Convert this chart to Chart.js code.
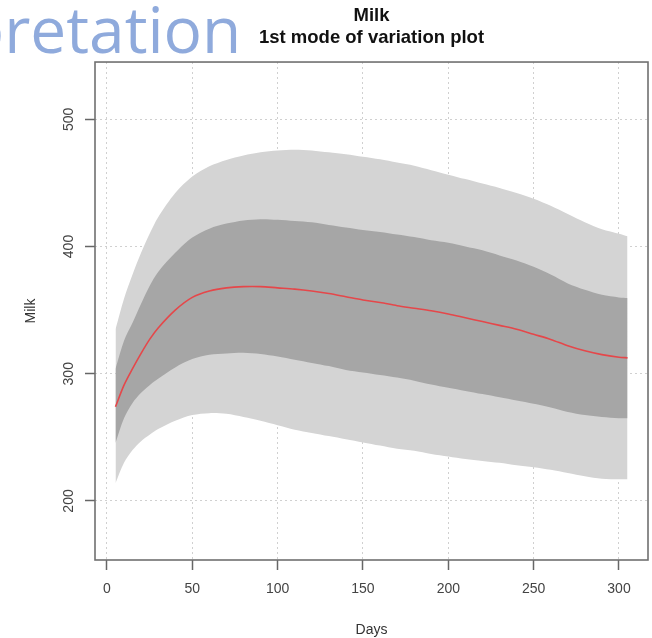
<!DOCTYPE html>
<html>
<head>
<meta charset="utf-8">
<script src="https://cdn.jsdelivr.net/npm/chart.js@4/dist/chart.umd.min.js"></script>
<style>
  body { margin: 0; background: #fff; }
  #wrap { position: relative; width: 652px; height: 638px; overflow: hidden; }
  #slideText {
    position: absolute; left: -35px; top: -3px;
    font-family: "Open Sans", sans-serif; font-size: 64px; line-height: 64px;
    color: #8faadc; white-space: nowrap;
  }
</style>
</head>
<body>
<div id="wrap">
  <canvas id="milkChart" width="652" height="638"></canvas>
  <div id="slideText">pretation</div>
</div>
<script>
// Days of lactation and milk yield curves
const days = [5, 10, 15, 20, 25, 30, 40, 50, 60, 70, 80, 90, 100, 110, 120, 130, 140, 150,
  160, 170, 180, 190, 200, 210, 220, 230, 240, 250, 260, 270, 280, 290, 300, 305];

const meanCurve = [274, 291, 304, 316, 327, 336, 350, 360, 365, 367.5, 368.5, 368.5, 367.5, 366.5, 365, 363, 360.5, 358,
  356, 353.5, 351.5, 349.5, 347, 344, 341, 338, 335, 331, 327, 322, 318, 315, 313, 312.5];

const innerUpper = [304, 326, 340, 355, 369, 380, 395, 407, 414, 418, 420.5, 421.5, 421, 420, 419, 417, 415, 413,
  411.5, 409.5, 407.5, 405, 403, 400, 397, 393, 389, 384, 378, 371, 366, 362, 360, 359.5];
const innerLower = [245.5, 265, 277, 285, 291, 296, 305, 311.5, 315, 316, 316.5, 315.5, 313.5, 311, 308.5, 306, 303, 301,
  299, 297, 294.5, 291.5, 289, 286.5, 284, 281.5, 279, 276.5, 273.5, 270, 267.5, 266, 265, 265];

const outerUpper = [335, 359, 378, 395, 410, 423, 442, 455, 463, 468, 471.5, 474, 475.5, 476, 475.5, 474, 472.5, 470.5,
  468.5, 466, 463.5, 460, 456.5, 453, 449.5, 446, 442, 437.5, 432, 425.5, 419, 413.5, 410, 408];
const outerLower = [214, 230, 240, 247, 252, 256.5, 263, 267.5, 269, 268.5, 266, 263, 259.5, 256, 253.5, 251, 248.5, 246,
  243.5, 241, 239.5, 237, 235, 233, 231.5, 230, 228, 226.5, 224.5, 222, 219.5, 217.5, 217, 217];

const xTicks = [0, 50, 100, 150, 200, 250, 300];
const yTicks = [200, 300, 400, 500];

function toPoints(values) {
  return days.map((d, i) => ({ x: d, y: values[i] }));
}

// draws the box round the plot region
const plotBox = {
  id: 'plotBox',
  afterDraw(chart) {
    const a = chart.chartArea;
    const ctx = chart.ctx;
    ctx.save();
    ctx.strokeStyle = '#707070';
    ctx.lineWidth = 1.6;
    ctx.strokeRect(a.left, a.top, a.right - a.left, a.bottom - a.top);
    ctx.restore();
  }
};

const font = 'Liberation Sans, Arial, sans-serif';

new Chart(document.getElementById('milkChart').getContext('2d'), {
  type: 'line',
  data: {
    datasets: [
      { data: toPoints(meanCurve), borderColor: '#e5474a', borderWidth: 1.6, fill: false },
      { data: toPoints(innerUpper), borderWidth: 0, backgroundColor: '#a6a6a6', fill: '+1' },
      { data: toPoints(innerLower), borderWidth: 0, fill: false },
      { data: toPoints(outerUpper), borderWidth: 0, backgroundColor: '#d4d4d4', fill: '+1' },
      { data: toPoints(outerLower), borderWidth: 0, fill: false }
    ]
  },
  options: {
    responsive: false,
    animation: false,
    devicePixelRatio: 1,
    layout: { padding: { left: 0, right: 4, top: 0, bottom: 0 } },
    elements: {
      point: { radius: 0 },
      line: { tension: 0.3 }
    },
    plugins: {
      legend: { display: false },
      tooltip: { enabled: false },
      title: {
        display: true,
        fullSize: false,
        text: ['Milk', '1st mode of variation plot'],
        color: '#111',
        font: { family: font, size: 18.5, weight: 'bold', lineHeight: 1.19 },
        padding: { top: 4.5, bottom: 13.5 }
      }
    },
    scales: {
      x: {
        type: 'linear',
        min: -7,
        max: 317,
        afterBuildTicks: s => { s.ticks = xTicks.map(v => ({ value: v })); },
        afterFit: s => { s.height = 78; },
        grid: { color: '#d0d0d0', lineWidth: 1, tickLength: 10, tickColor: '#666', tickWidth: 1.5, tickBorderDash: [] },
        border: { display: false, dash: [2, 3] },
        ticks: { color: '#444', font: { family: font, size: 14 }, padding: 11, maxRotation: 0 },
        title: { display: true, text: 'Days', color: '#333', font: { family: font, size: 14 }, padding: { top: 0, bottom: -1 } }
      },
      y: {
        type: 'linear',
        min: 153.6,
        max: 545,
        afterBuildTicks: s => { s.ticks = yTicks.map(v => ({ value: v })); },
        afterFit: s => { s.width = 95; },
        grid: { color: '#d0d0d0', lineWidth: 1, tickLength: 10, tickColor: '#666', tickWidth: 1.5, tickBorderDash: [] },
        border: { display: false, dash: [2, 3] },
        ticks: { color: '#444', font: { family: font, size: 14 }, padding: 4, minRotation: 90, maxRotation: 90, crossAlign: 'center' },
        title: { display: true, text: 'Milk', color: '#333', font: { family: font, size: 14 }, padding: { top: 22.6, bottom: 0 } }
      }
    }
  },
  plugins: [plotBox]
});
</script>
</body>
</html>
